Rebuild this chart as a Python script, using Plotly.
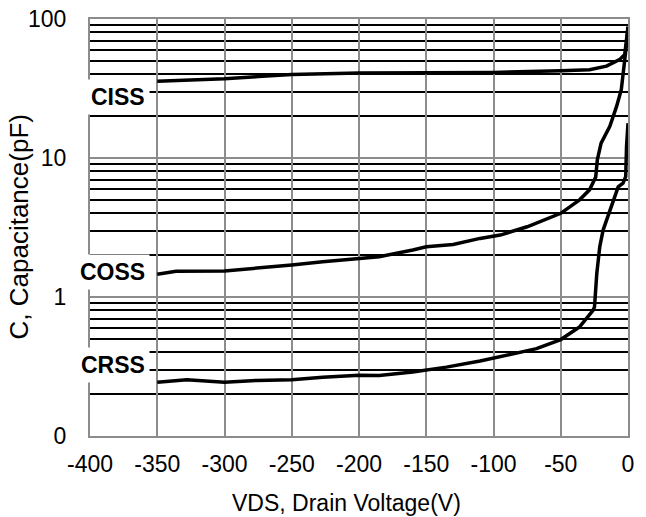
import math
import plotly.graph_objects as go

# ---- data ----
vds_ciss = [-350, -325, -300, -275, -250, -225, -200, -150, -100, -50, -28.6, -16, -6.3, -2.4, 0]
ciss = [35.6, 36.3, 37.1, 38.5, 39.8, 40.4, 40.8, 41.0, 41.3, 42.4, 43.2, 45.8, 51.0, 55.5, 88.0]

vds_coss = [-350, -336, -300, -276, -250, -227, -205, -185, -160, -150, -130, -110, -95, -75, -50,
            -36, -28.6, -24, -22.8, -20, -13.5, -8.5, -5, -2.4, -0.7, 0]
coss = [1.46, 1.53, 1.54, 1.61, 1.70, 1.79, 1.88, 1.95, 2.18, 2.30, 2.39, 2.64, 2.79, 3.2, 4.0,
        5.0, 5.9, 7.3, 9.7, 12.8, 16.9, 23.5, 31.0, 48.3, 71.0, 88.0]

vds_crss = [-350, -328, -300, -276, -250, -227, -200, -185, -160, -135, -110, -90, -68, -50,
            -36, -26, -24.9, -23.2, -21, -18.5, -13.5, -7.3, -3.7, -1.7, -1.1, 0]
crss = [0.244, 0.254, 0.244, 0.251, 0.254, 0.265, 0.273, 0.272, 0.289, 0.313, 0.346, 0.38, 0.425, 0.494,
        0.609, 0.80, 0.85, 1.48, 2.30, 3.03, 4.23, 6.2, 6.6, 7.35, 12.1, 17.8]

series_names = ["CISS", "COSS", "CRSS"]
label_levels = [27.6, 1.52, 0.322]  # where each series name sits (pF)

x_tickvals = [-400, -350, -300, -250, -200, -150, -100, -50, 0]
x_ticktext = ["-400", "-350", "-300", "-250", "-200", "-150", "-100", "-50", "0"]
y_tickvals = [0.1, 1, 10, 100]
y_ticktext = ["0", "1", "10", "100"]
y_minor_vals = [0.2, 0.3, 0.4, 0.5, 0.6, 0.7, 0.8, 0.9,
                2, 3, 4, 5, 6, 7, 8, 9,
                20, 30, 40, 50, 60, 70, 80, 90]

title_text = "Capacitance vs<br>Drain Voltage"
x_title = "VDS, Drain Voltage(V)"
y_title = "C, Capacitance(pF)"

FONT = "Liberation Sans, Arial, sans-serif"
GRAY = "#8c8c8c"

fig = go.Figure()
for xs, ys, nm in [(vds_ciss, ciss, "CISS"), (vds_coss, coss, "COSS"), (vds_crss, crss, "CRSS")]:
    fig.add_trace(go.Scatter(x=xs, y=ys, mode="lines", name=nm,
                             line=dict(color="black", width=3.5), showlegend=False))

annotations = []
for nm, lv in zip(series_names, label_levels):
    annotations.append(dict(x=-350, y=math.log10(lv), xref="x", yref="y",
                            xanchor="right", yanchor="middle", xshift=-7,
                            text="<b>%s</b>" % nm, showarrow=False,
                            font=dict(family=FONT, size=23, color="black"),
                            bgcolor="white", borderpad=4))
annotations.append(dict(x=0.5, y=0, xref="paper", yref="paper", xanchor="center", yanchor="middle",
                        xshift=-13, yshift=-67, text=x_title, showarrow=False,
                        font=dict(family=FONT, size=23, color="black")))
annotations.append(dict(x=0, y=0.5, xref="paper", yref="paper", xanchor="center", yanchor="middle",
                        xshift=-72, text=y_title, textangle=-90, showarrow=False,
                        font=dict(family=FONT, size=26, color="black")))
annotations.append(dict(x=(448 - 82) / 538.0, y=1, xref="paper", yref="paper", xanchor="right",
                        yanchor="bottom", yshift=11, text="<b>%s</b>" % title_text, showarrow=False,
                        align="right", font=dict(family=FONT, size=22, color="black")))

fig.update_layout(
    width=646, height=517,
    margin=dict(l=82, r=26, t=11, b=89, autoexpand=False),
    paper_bgcolor="white", plot_bgcolor="white",
    annotations=annotations,
    xaxis=dict(range=[-400, 0], tickmode="array", tickvals=x_tickvals, ticktext=x_ticktext,
               showgrid=True, gridcolor=GRAY, gridwidth=2, zeroline=False, automargin=False,
               showline=True, mirror=True, linecolor=GRAY, linewidth=2,
               ticks="", ticklabelstandoff=6, ticklabeloverflow="allow",
               tickfont=dict(family=FONT, size=23, color="black")),
    yaxis=dict(type="log", range=[-1, 2], tickmode="array", tickvals=y_tickvals, ticktext=y_ticktext,
               showgrid=True, gridcolor=GRAY, gridwidth=2, zeroline=False, automargin=False,
               showline=True, mirror=True, linecolor=GRAY, linewidth=2,
               ticks="", ticklabelstandoff=17, ticklabeloverflow="allow",
               tickfont=dict(family=FONT, size=23, color="black"),
               minor=dict(tickmode="array", tickvals=y_minor_vals, showgrid=True,
                          gridcolor="black", gridwidth=2, ticks="")),
)

fig.write_html("out.html")
